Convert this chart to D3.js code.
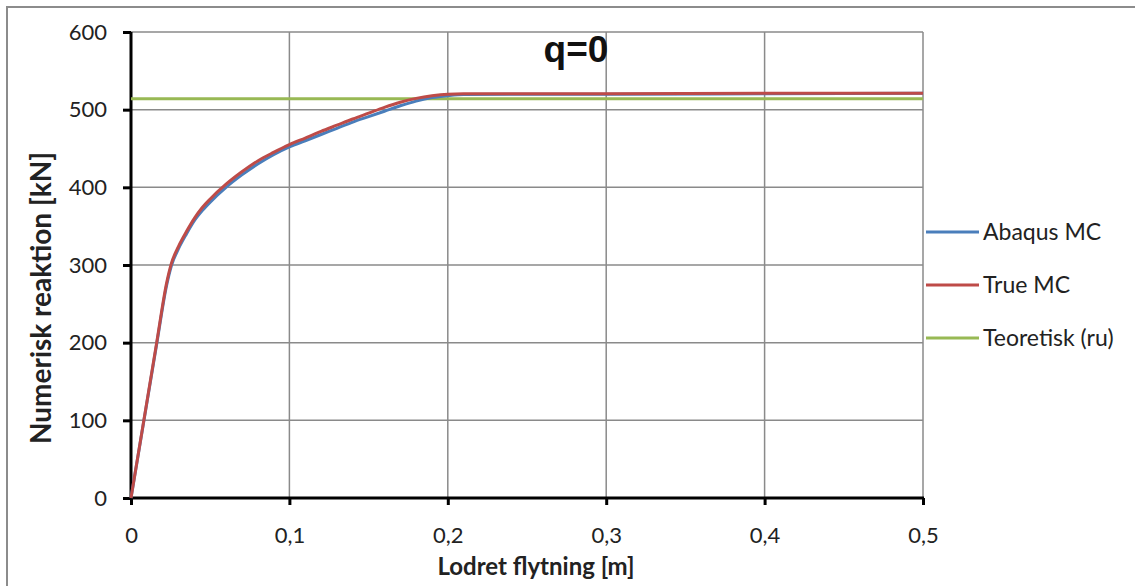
<!DOCTYPE html>
<html>
<head>
<meta charset="utf-8">
<script src="https://cdn.jsdelivr.net/npm/d3@7"></script>
<style>
  html, body { margin: 0; padding: 0; background: #fff; }
  svg { display: block; }
  .tick text { font-family: Lato, "Open Sans", sans-serif; }
</style>
</head>
<body>
<svg id="chart" width="1135" height="586"></svg>
<script>
// Load–displacement curves for q=0
const abaqusDisp  = [0, 0.0162, 0.0225, 0.0255, 0.03, 0.035, 0.04, 0.045, 0.05, 0.06, 0.07, 0.08, 0.09, 0.1, 0.11, 0.12, 0.13, 0.14, 0.15, 0.16, 0.17, 0.18, 0.19, 0.2, 0.21, 0.25, 0.3, 0.4, 0.5];
const abaqusForce = [0, 198, 274, 299, 321, 340, 357, 370, 381, 400, 416, 430, 442, 452, 460, 468, 476, 484, 491, 498, 505, 511, 515.5, 518, 519.5, 520, 520, 520.5, 521];

const trueDisp  = [0, 0.0162, 0.0225, 0.0255, 0.03, 0.035, 0.04, 0.045, 0.05, 0.06, 0.07, 0.08, 0.09, 0.1, 0.11, 0.12, 0.13, 0.14, 0.15, 0.16, 0.17, 0.18, 0.19, 0.2, 0.21, 0.25, 0.3, 0.4, 0.5];
const trueForce = [0, 200, 277, 302, 324, 343, 360, 374, 385, 404, 420, 434, 445, 455, 463.5, 472, 480, 488, 495.5, 503, 509.5, 514.5, 518, 520, 520.5, 520.5, 520.5, 521, 521];

const theoryDisp  = [0, 0.5];
const theoryForce = [514, 514];

const xTicks = [0, 0.1, 0.2, 0.3, 0.4, 0.5];
const yTicks = [0, 100, 200, 300, 400, 500, 600];
const seriesNames = ["Abaqus MC", "True MC", "Teoretisk (ru)"];
const seriesColors = ["#4a7ebb", "#be4b48", "#98b954"];

const svg = d3.select("#chart");
const plot = { left: 131, right: 923, top: 32, bottom: 498 };
const font = "Lato, 'Open Sans', sans-serif";

const x = d3.scaleLinear().domain([0, 0.5]).range([plot.left, plot.right]);
const y = d3.scaleLinear().domain([0, 600]).range([plot.bottom, plot.top]);

// outer frame
svg.append("rect")
  .attr("x", 7).attr("y", 7).attr("width", 1200).attr("height", 700)
  .attr("fill", "none").attr("stroke", "#8c8c8c").attr("stroke-width", 2);

// gridlines
const grid = svg.append("g");
grid.selectAll("line.h").data(yTicks.filter(d => d > 0)).join("line")
  .attr("x1", plot.left).attr("x2", plot.right)
  .attr("y1", d => y(d)).attr("y2", d => y(d))
  .attr("stroke", "#8a8a8a").attr("stroke-width", 1.5);
grid.selectAll("line.v").data(xTicks.filter(d => d > 0)).join("line")
  .attr("x1", d => x(d)).attr("x2", d => x(d))
  .attr("y1", plot.top).attr("y2", plot.bottom)
  .attr("stroke", "#8a8a8a").attr("stroke-width", 1.5);

// axes
const fmt = d => String(d).replace(".", ",");
const xAxis = svg.append("g").attr("transform", `translate(0,${plot.bottom})`)
  .call(d3.axisBottom(x).tickValues(xTicks).tickFormat(fmt).tickSize(7).tickPadding(22));
const yAxis = svg.append("g").attr("transform", `translate(${plot.left},0)`)
  .call(d3.axisLeft(y).tickValues(yTicks).tickSize(8).tickPadding(16));
[xAxis, yAxis].forEach(a => {
  a.select(".domain").attr("stroke", "#000").attr("stroke-width", 3);
  a.selectAll(".tick line").attr("stroke", "#000").attr("stroke-width", 3);
  a.selectAll(".tick text").attr("font-size", 22).attr("fill", "#222");
});
xAxis.select(".domain").attr("d", `M${plot.left - 1},0H${plot.right + 1}`);
yAxis.select(".domain").attr("d", `M0,${plot.bottom + 1}V${plot.top}`);

// series
const line = d3.line().x(d => x(d[0])).y(d => y(d[1])).curve(d3.curveMonotoneX);
const series = [
  d3.zip(abaqusDisp, abaqusForce),
  d3.zip(trueDisp, trueForce),
  d3.zip(theoryDisp, theoryForce)
];
svg.append("path").datum(series[2]).attr("d", line)
  .attr("fill", "none").attr("stroke", seriesColors[2]).attr("stroke-width", 3);
svg.append("path").datum(series[0]).attr("d", line)
  .attr("fill", "none").attr("stroke", seriesColors[0]).attr("stroke-width", 3);
svg.append("path").datum(series[1]).attr("d", line)
  .attr("fill", "none").attr("stroke", seriesColors[1]).attr("stroke-width", 3);

// title
svg.append("text").attr("x", 576).attr("y", 62).attr("text-anchor", "middle")
  .attr("font-family", "'Liberation Sans', Arial, sans-serif").attr("font-weight", "bold")
  .attr("font-size", 37).attr("fill", "#111").text("q=0");

// axis titles
svg.append("text").attr("x", 536).attr("y", 575).attr("text-anchor", "middle")
  .attr("font-family", font).attr("font-weight", "bold")
  .attr("font-size", 24).attr("fill", "#222").text("Lodret flytning [m]");
svg.append("text").attr("transform", "translate(51,298) rotate(-90)").attr("text-anchor", "middle")
  .attr("font-family", font).attr("font-weight", "bold")
  .attr("font-size", 28).attr("fill", "#222").text("Numerisk reaktion [kN]");

// legend
const legend = svg.append("g");
const legY = [232, 285, 338];
seriesNames.forEach((name, i) => {
  legend.append("line").attr("x1", 926).attr("x2", 979)
    .attr("y1", legY[i]).attr("y2", legY[i])
    .attr("stroke", seriesColors[i]).attr("stroke-width", 3);
  legend.append("text").attr("x", 983).attr("y", legY[i] + 8)
    .attr("font-family", font).attr("font-size", 23)
    .attr("fill", "#222").text(name);
});
</script>
</body>
</html>
